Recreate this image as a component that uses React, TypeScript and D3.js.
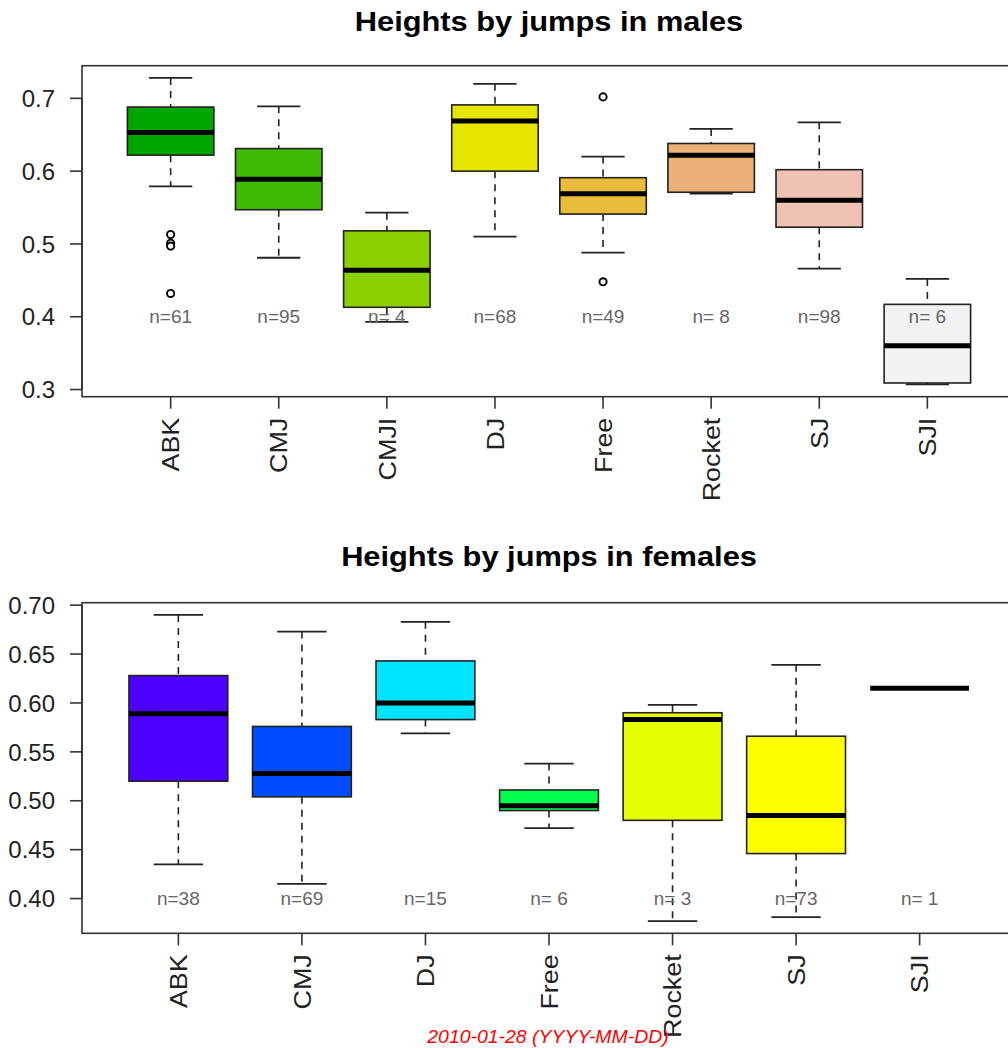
import React from "react";
import * as d3 from "d3";

// ---------- Data: males ----------
const maleCategories = ["ABK", "CMJ", "CMJI", "DJ", "Free", "Rocket", "SJ", "SJI"];
const maleLowerWhisker = [0.579, 0.481, 0.393, 0.51, 0.488, 0.569, 0.466, 0.307];
const maleQ1 = [0.622, 0.547, 0.413, 0.6, 0.541, 0.571, 0.523, 0.309];
const maleMedian = [0.653, 0.589, 0.464, 0.669, 0.569, 0.622, 0.56, 0.36];
const maleQ3 = [0.688, 0.631, 0.518, 0.691, 0.591, 0.638, 0.602, 0.417];
const maleUpperWhisker = [0.728, 0.689, 0.543, 0.72, 0.62, 0.658, 0.667, 0.452];
const maleOutliers = [[0.513, 0.501, 0.497, 0.432], [], [], [], [0.702, 0.448], [], [], []];
const maleN = [61, 95, 4, 68, 49, 8, 98, 6];
const maleColors = ["#00A600", "#3EBB00", "#8BD000", "#E6E600", "#E9BD3A", "#ECB176", "#EFC2B3", "#F2F2F2"];
const maleTicks = [0.3, 0.4, 0.5, 0.6, 0.7];

// ---------- Data: females ----------
const femaleCategories = ["ABK", "CMJ", "DJ", "Free", "Rocket", "SJ", "SJI"];
const femaleLowerWhisker = [0.435, 0.415, 0.569, 0.472, 0.377, 0.381, 0.615];
const femaleQ1 = [0.52, 0.504, 0.583, 0.49, 0.48, 0.446, 0.615];
const femaleMedian = [0.589, 0.528, 0.6, 0.495, 0.583, 0.485, 0.615];
const femaleQ3 = [0.628, 0.576, 0.643, 0.511, 0.59, 0.566, 0.615];
const femaleUpperWhisker = [0.69, 0.673, 0.683, 0.538, 0.598, 0.639, 0.615];
const femaleOutliers = [[], [], [], [], [], [], []];
const femaleN = [38, 69, 15, 6, 3, 73, 1];
const femaleColors = ["#4C00FF", "#004CFF", "#00E5FF", "#00FF4D", "#E6FF00", "#FFFF00", "#FFE0B3"];
const femaleTicks = [0.4, 0.45, 0.5, 0.55, 0.6, 0.65, 0.7];

const nLabelValue = 0.4;
const dateLabel = "2010-01-28 (YYYY-MM-DD)";

type PanelProps = {
  title: string;
  cats: string[];
  lo: number[];
  q1: number[];
  med: number[];
  q3: number[];
  hi: number[];
  out: number[][];
  n: number[];
  colors: string[];
  ticks: number[];
  tickFmt: (v: number) => string;
  top: number;
  bottom: number;
  titleY: number;
};

const LEFT = 82;
const RIGHT = 1016;
const FONT = "Liberation Sans, Arial, Helvetica, sans-serif";

function Panel(p: PanelProps) {
  const k = p.cats.length;
  const xExt = 0.04 * k;
  const x = d3.scaleLinear().domain([0.5 - xExt, k + 0.5 + xExt]).range([LEFT, RIGHT]);
  const allVals = [...p.lo, ...p.hi, ...p.out.flat()];
  const mn = d3.min(allVals) as number;
  const mx = d3.max(allVals) as number;
  const ext = (mx - mn) * 0.04;
  const y = d3.scaleLinear().domain([mn - ext, mx + ext]).range([p.bottom, p.top]);
  const bw = (x(1) - x(0)) * 0.8;
  const cw = bw / 2;
  const fmtN = (v: number) => {
    const w = String(d3.max(p.n)).length;
    return "n=" + String(v).padStart(w, " ");
  };
  const titleX = (LEFT + RIGHT) / 2;
  return (
    <g>
      <text transform={`translate(${titleX},${p.titleY}) scale(1.1,1)`} textAnchor="middle" fontFamily={FONT} fontWeight="bold" fontSize={28} fill="#000">
        {p.title}
      </text>
      {p.cats.map((c, i) => {
        const cx = x(i + 1);
        const single = p.q1[i] === p.q3[i] && p.lo[i] === p.hi[i];
        return (
          <g key={c}>
            {!single && (
              <>
                <line x1={cx} x2={cx} y1={y(p.hi[i])} y2={y(p.q3[i])} stroke="#222" strokeWidth={1.6} strokeDasharray="7,6" />
                <line x1={cx} x2={cx} y1={y(p.q1[i])} y2={y(p.lo[i])} stroke="#222" strokeWidth={1.6} strokeDasharray="7,6" />
                <line x1={cx - cw / 2} x2={cx + cw / 2} y1={y(p.hi[i])} y2={y(p.hi[i])} stroke="#222" strokeWidth={1.8} />
                <line x1={cx - cw / 2} x2={cx + cw / 2} y1={y(p.lo[i])} y2={y(p.lo[i])} stroke="#222" strokeWidth={1.8} />
                <rect x={cx - bw / 2} y={y(p.q3[i])} width={bw} height={y(p.q1[i]) - y(p.q3[i])} fill={p.colors[i]} stroke="#222" strokeWidth={1.6} />
              </>
            )}
            <line x1={cx - bw / 2} x2={cx + bw / 2} y1={y(p.med[i])} y2={y(p.med[i])} stroke="#000" strokeWidth={5} />
            {p.out[i].map((o, j) => (
              <circle key={j} cx={cx} cy={y(o)} r={3.6} fill="#fff" stroke="#000" strokeWidth={1.9} />
            ))}
          </g>
        );
      })}
      {p.cats.map((c, i) => (
        <text key={"n" + c} x={x(i + 1)} y={y(nLabelValue)} dy="0.35em" textAnchor="middle" fontFamily={FONT} fontSize={19} fill="#666" style={{ whiteSpace: "pre" }}>
          {fmtN(p.n[i])}
        </text>
      ))}
      <rect x={LEFT} y={p.top} width={RIGHT - LEFT} height={p.bottom - p.top} fill="none" stroke="#333" strokeWidth={1.6} />
      {/* y axis */}
      <line x1={LEFT} x2={LEFT} y1={y(p.ticks[0])} y2={y(p.ticks[p.ticks.length - 1])} stroke="#333" strokeWidth={1.6} />
      {p.ticks.map((t) => (
        <g key={t}>
          <line x1={LEFT - 12} x2={LEFT} y1={y(t)} y2={y(t)} stroke="#333" strokeWidth={1.6} />
          <text x={LEFT - 27} y={y(t)} dy="0.36em" textAnchor="end" fontFamily={FONT} fontSize={24} fill="#222">
            {p.tickFmt(t)}
          </text>
        </g>
      ))}
      {/* x axis */}
      {p.cats.map((c, i) => (
        <g key={"x" + c}>
          <line x1={x(i + 1)} x2={x(i + 1)} y1={p.bottom} y2={p.bottom + 12} stroke="#333" strokeWidth={1.6} />
          <text transform={`translate(${x(i + 1)},${p.bottom + 21}) rotate(-90) scale(1.12,1)`} dy="0.36em" textAnchor="end" fontFamily={FONT} fontSize={24} fill="#222">
            {c}
          </text>
        </g>
      ))}
    </g>
  );
}

export default function App() {
  return (
    <svg width={1008} height={1048} style={{ position: "absolute", left: 0, top: 0, background: "#fff" }}>
      <rect x={0} y={0} width={1008} height={1048} fill="#fff" />
      <Panel
        title="Heights by jumps in males"
        cats={maleCategories}
        lo={maleLowerWhisker}
        q1={maleQ1}
        med={maleMedian}
        q3={maleQ3}
        hi={maleUpperWhisker}
        out={maleOutliers}
        n={maleN}
        colors={maleColors}
        ticks={maleTicks}
        tickFmt={d3.format(".1f")}
        top={65.7}
        bottom={396.7}
        titleY={31}
      />
      <Panel
        title="Heights by jumps in females"
        cats={femaleCategories}
        lo={femaleLowerWhisker}
        q1={femaleQ1}
        med={femaleMedian}
        q3={femaleQ3}
        hi={femaleUpperWhisker}
        out={femaleOutliers}
        n={femaleN}
        colors={femaleColors}
        ticks={femaleTicks}
        tickFmt={d3.format(".2f")}
        top={602.7}
        bottom={933.3}
        titleY={566}
      />
      <text transform="translate(548,1043) scale(1.08,1)" textAnchor="middle" fontFamily={FONT} fontStyle="italic" fontSize={18} fill="#FF0000">
        {dateLabel}
      </text>
    </svg>
  );
}
